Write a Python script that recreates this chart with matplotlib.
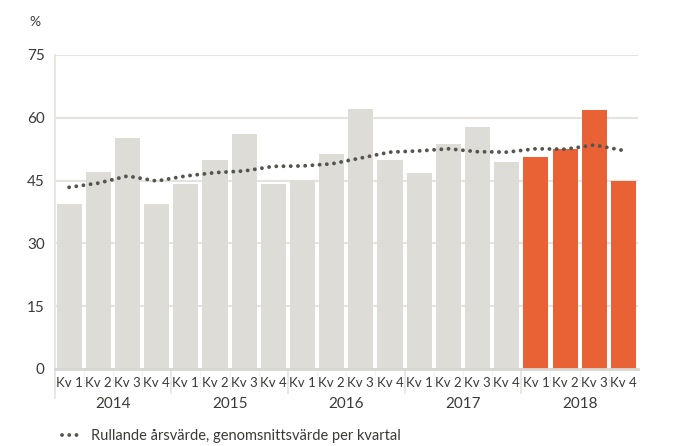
import numpy as np
import matplotlib
matplotlib.use("Agg")
import matplotlib.pyplot as plt
from matplotlib.lines import Line2D
import matplotlib.transforms as mtransforms

plt.rcParams['font.family'] = ['Lato', 'DejaVu Sans']

ar = ['2014', '2015', '2016', '2017', '2018']
kvartal = ['Kv 1', 'Kv 2', 'Kv 3', 'Kv 4']
varden = [39.5, 47.1, 55.2, 39.3,
          44.3, 50.0, 56.2, 44.3,
          45.2, 51.4, 62.1, 50.0,
          46.9, 53.8, 57.9, 49.5,
          50.7, 52.6, 61.9, 44.8]
rullande = [43.4, 44.4, 46.1, 44.9,
            46.1, 46.9, 47.3, 48.4,
            48.5, 49.0, 50.4, 51.8,
            52.1, 52.6, 51.9, 51.8,
            52.6, 52.5, 53.5, 52.2]

gra = '#dddcd7'
orange = '#e86235'
linjegra = '#e4e3de'
text_farg = '#3a3a38'

fig = plt.figure(figsize=(6.77, 4.46), dpi=100)
ax = fig.add_axes([54.5 / 677, 1 - 369 / 446, (638 - 54.5) / 677, (369 - 55) / 446])

x = np.arange(len(varden))
farger = [gra] * 16 + [orange] * 4
ax.bar(x, varden, width=0.86, color=farger, zorder=2)
ax.plot(x, rullande, color='#55554f', lw=2.8, linestyle=(0, (0.01, 1.85)),
        dash_capstyle='round', zorder=3)

ax.set_xlim(-0.5, 19.5)
ax.set_ylim(0, 75)
ax.set_yticks([0, 15, 30, 45, 60, 75])
ax.tick_params(axis='y', length=0, pad=7, labelsize=11, labelcolor=text_farg)
ax.yaxis.grid(True, color=linjegra, lw=1.5, zorder=0)
ax.set_axisbelow(True)

ax.set_xticks(x)
ax.set_xticklabels(kvartal * 5, fontsize=9.5, color=text_farg)
ax.tick_params(axis='x', length=0, pad=6)

for s in ['top', 'right', 'left']:
    ax.spines[s].set_visible(False)
ax.spines['bottom'].set_color('#d8d7d2')
ax.spines['bottom'].set_linewidth(2)

trans = mtransforms.blended_transform_factory(ax.transData, ax.transAxes)
# vänster linje ner genom etiketterna
ax.plot([-0.5, -0.5], [1, -0.092], transform=trans, color=linjegra, lw=1.2, clip_on=False)
# avdelare mellan år och kvartal
for i in range(1, 20):
    if i % 4 == 0:
        ax.plot([i - 0.5, i - 0.5], [0, -0.076], transform=trans, color=linjegra,
                lw=1.2, clip_on=False)
    else:
        ax.plot([i - 0.5, i - 0.5], [-0.005, -0.07], transform=trans, color=linjegra,
                lw=0.8, ls=(0, (1, 1.5)), clip_on=False)
for j, a in enumerate(ar):
    ax.text(j * 4 + 1.5, -0.112, a, transform=trans, ha='center', va='center',
            fontsize=11, color=text_farg)

fig.text(35 / 677, 1 - 22 / 446, '%', ha='center', va='center', fontsize=10, color=text_farg)

handle = Line2D([], [], color='#55554f', lw=2.8, linestyle=(0, (0.01, 1.85)),
                dash_capstyle='round')
fig.legend([handle], ['Rullande årsvärde, genomsnittsvärde per kvartal'],
           loc='center left', bbox_to_anchor=(49 / 677, 1 - 436 / 446),
           frameon=False, handlelength=1.3, handletextpad=0.7, fontsize=10.5,
           labelcolor=text_farg)

fig.savefig('out.png', dpi=100)
